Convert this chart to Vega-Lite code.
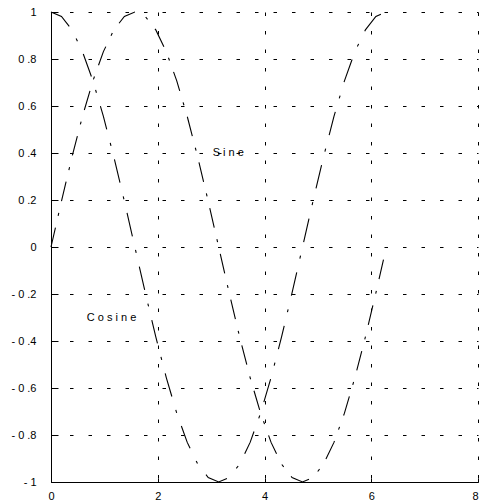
{
  "$schema": "https://vega.github.io/schema/vega-lite/v6.json",
  "autosize": "none",
  "padding": {"left": 51, "top": 12, "right": 1, "bottom": 20},
  "width": 427,
  "height": 470,
  "background": "white",
  "config": {
    "view": {"stroke": null},
    "axis": {
      "labelFont": "Liberation Sans",
      "labelFontSize": 11,
      "labelColor": "black",
      "domainColor": "black",
      "domainWidth": 1,
      "tickColor": "black",
      "tickWidth": 1,
      "gridColor": "black",
      "gridWidth": 1,
      "gridDash": [3.5, 15],
      "gridOpacity": 1,
      "title": null
    }
  },
  "layer": [
    {
      "data": {
        "values": [
          {"x": 0, "Sine": 0, "Cosine": 1},
          {"x": 0.19635, "Sine": 0.19509, "Cosine": 0.98079},
          {"x": 0.3927, "Sine": 0.38268, "Cosine": 0.92388},
          {"x": 0.58905, "Sine": 0.55557, "Cosine": 0.83147},
          {"x": 0.7854, "Sine": 0.70711, "Cosine": 0.70711},
          {"x": 0.98175, "Sine": 0.83147, "Cosine": 0.55557},
          {"x": 1.1781, "Sine": 0.92388, "Cosine": 0.38268},
          {"x": 1.37445, "Sine": 0.98079, "Cosine": 0.19509},
          {"x": 1.5708, "Sine": 1, "Cosine": 0},
          {"x": 1.76715, "Sine": 0.98079, "Cosine": -0.19509},
          {"x": 1.9635, "Sine": 0.92388, "Cosine": -0.38268},
          {"x": 2.15984, "Sine": 0.83147, "Cosine": -0.55557},
          {"x": 2.35619, "Sine": 0.70711, "Cosine": -0.70711},
          {"x": 2.55254, "Sine": 0.55557, "Cosine": -0.83147},
          {"x": 2.74889, "Sine": 0.38268, "Cosine": -0.92388},
          {"x": 2.94524, "Sine": 0.19509, "Cosine": -0.98079},
          {"x": 3.14159, "Sine": 0, "Cosine": -1},
          {"x": 3.33794, "Sine": -0.19509, "Cosine": -0.98079},
          {"x": 3.53429, "Sine": -0.38268, "Cosine": -0.92388},
          {"x": 3.73064, "Sine": -0.55557, "Cosine": -0.83147},
          {"x": 3.92699, "Sine": -0.70711, "Cosine": -0.70711},
          {"x": 4.12334, "Sine": -0.83147, "Cosine": -0.55557},
          {"x": 4.31969, "Sine": -0.92388, "Cosine": -0.38268},
          {"x": 4.51604, "Sine": -0.98079, "Cosine": -0.19509},
          {"x": 4.71239, "Sine": -1, "Cosine": 0},
          {"x": 4.90874, "Sine": -0.98079, "Cosine": 0.19509},
          {"x": 5.10509, "Sine": -0.92388, "Cosine": 0.38268},
          {"x": 5.30144, "Sine": -0.83147, "Cosine": 0.55557},
          {"x": 5.49779, "Sine": -0.70711, "Cosine": 0.70711},
          {"x": 5.69414, "Sine": -0.55557, "Cosine": 0.83147},
          {"x": 5.89049, "Sine": -0.38268, "Cosine": 0.92388},
          {"x": 6.08684, "Sine": -0.19509, "Cosine": 0.98079},
          {"x": 6.28319, "Sine": 0, "Cosine": 1}
        ]
      },
      "transform": [{"fold": ["Sine", "Cosine"], "as": ["series", "value"]}],
      "mark": {"type": "line", "color": "black", "strokeWidth": 1.1},
      "encoding": {
        "x": {
          "field": "x",
          "type": "quantitative",
          "scale": {"domain": [0, 8], "nice": false, "zero": false},
          "axis": {
            "values": [0, 2, 4, 6, 8],
            "format": "d",
            "tickSize": -4,
            "labelPadding": 12,
            "labelFlush": false,
            "labelOverlap": false,
            "labelAlign": {"condition": {"test": "datum.value == 8", "value": "right"}, "value": "center"}
          }
        },
        "y": {
          "field": "value",
          "type": "quantitative",
          "scale": {"domain": [-1, 1], "nice": false, "zero": false},
          "axis": {
            "values": [-1, -0.95, -0.9, -0.85, -0.8, -0.75, -0.7, -0.65, -0.6, -0.55, -0.5, -0.45, -0.4, -0.35, -0.3, -0.25, -0.2, -0.15, -0.1, -0.05, 0, 0.05, 0.1, 0.15, 0.2, 0.25, 0.3, 0.35, 0.4, 0.45, 0.5, 0.55, 0.6, 0.65, 0.7, 0.75, 0.8, 0.85, 0.9, 0.95, 1],
            "tickSize": -7,
            "labelPadding": 22,
            "labelFlush": false,
            "labelOverlap": false,
            "labelExpr": "abs(datum.value*5 - round(datum.value*5)) > 0.001 ? '' : (abs(datum.value) < 0.001 ? '0' : (abs(datum.value) > 0.999 ? (datum.value < 0 ? '- 1' : '1') : (datum.value < 0 ? '- ' : '') + '0 .' + format(abs(round(datum.value*10)), 'd')))",
            "encode": {
              "ticks": {"update": {"x2": {"signal": "abs(datum.value*5 - round(datum.value*5)) > 0.001 ? 3 : 7"}}},
              "grid": {"update": {"strokeOpacity": {"signal": "abs(datum.value*5 - round(datum.value*5)) > 0.001 ? 0 : 1"}}}
            }
          }
        },
        "strokeDash": {
          "field": "series",
          "type": "nominal",
          "scale": {"domain": ["Cosine", "Sine"], "range": [[24, 14, 3, 14], [20, 12, 3, 12]]},
          "legend": null
        }
      }
    },
    {
      "data": {
        "values": [
          {"x": 3.03, "y": 0.4, "label": "S i n e"},
          {"x": 0.67, "y": -0.3, "label": "C o s i n e"}
        ]
      },
      "mark": {"type": "text", "align": "left", "baseline": "middle", "font": "Liberation Sans", "fontSize": 11, "color": "black"},
      "encoding": {
        "x": {"field": "x", "type": "quantitative"},
        "y": {"field": "y", "type": "quantitative"},
        "text": {"field": "label"}
      }
    }
  ]
}
